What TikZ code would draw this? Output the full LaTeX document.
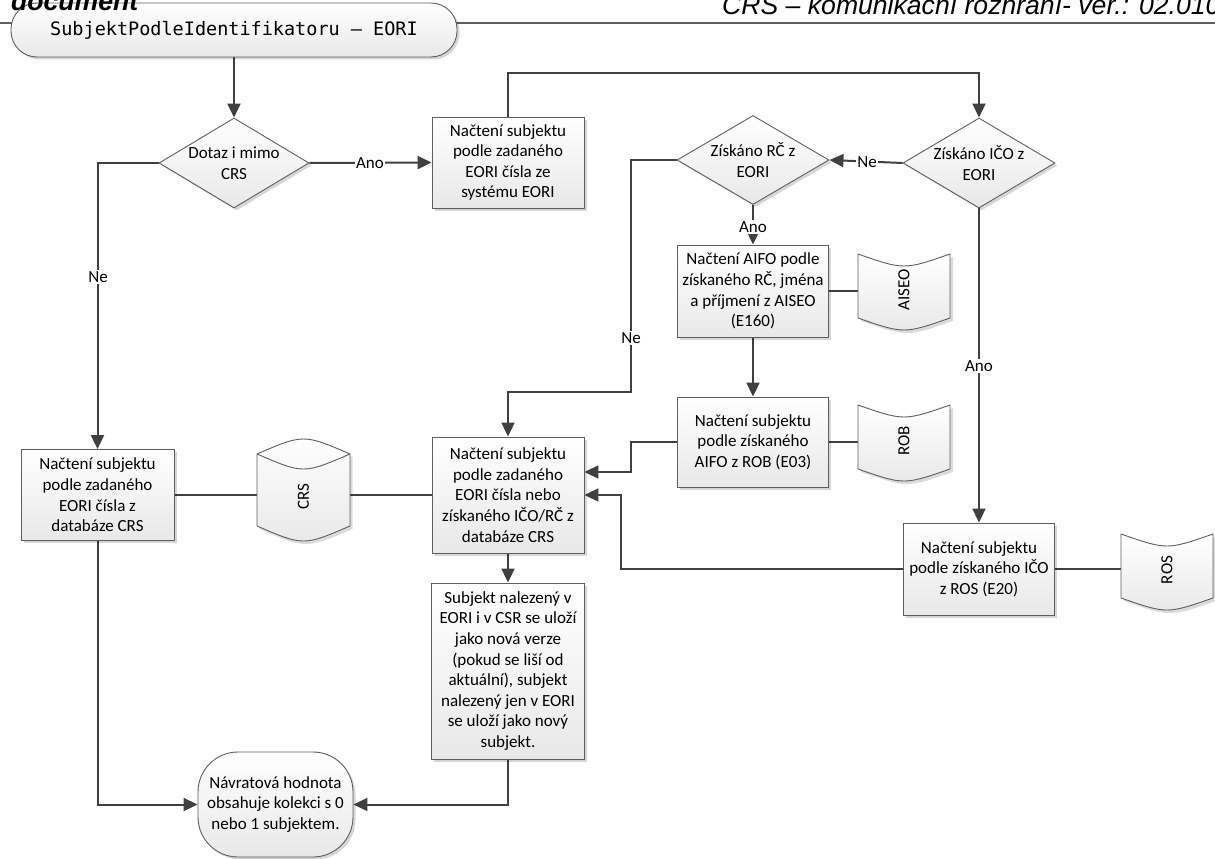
\documentclass[tikz,border=0pt]{standalone}
\usepackage{fontspec}
\setmainfont{Carlito}
\newfontfamily\hdrfont{Liberation Sans}
\newfontfamily\codefont{DejaVu Sans Mono}
\usetikzlibrary{arrows.meta,shapes.geometric,shadows,calc}
\pgfdeclarelayer{bg}
\pgfsetlayers{bg,main}
\definecolor{linec}{HTML}{404040}
\definecolor{borderc}{HTML}{5F5F5F}
\newcommand\bxfont{\fontsize{17}{20.6}\selectfont}
\newcommand\docshape[3]{%
  \begin{scope}[shift={#2}]
    \fill[black,opacity=.14] (-43,-33) .. controls (3,-17) .. (49,-33) -- (49,31) .. controls (3,47) .. (-43,31) -- cycle;
    \draw[borderline, top color=white, bottom color=black!9] (-46,-36) .. controls (0,-20) .. (46,-36) -- (46,28) .. controls (0,44) .. (-46,28) -- cycle;
  \end{scope}
  \node[doctext] (#1) at #2 {\rotatebox{90}{#3}};}
\begin{document}
\begin{tikzpicture}[x=1pt,y=-1pt,
  borderline/.style={draw=borderc, line width=0.9pt},
  conn/.style={draw=linec, line width=2pt},
  arr/.style={conn, -{Triangle[length=14pt,width=13pt]}},
  lbl/.style={fill=white, inner sep=1pt, font=\bxfont, text=black},
  shad/.style={drop shadow={shadow xshift=2.5pt, shadow yshift=-2.5pt, fill=black, opacity=0.16}},
  proc/.style={rectangle, borderline, top color=white, bottom color=black!9, shad, font=\bxfont, align=center, inner sep=2pt},
  dia/.style={diamond, borderline, top color=white, bottom color=black!9, shad, inner sep=0pt},
  diatext/.style={font=\bxfont, align=center, inner sep=0pt},
  term/.style={rectangle, borderline, top color=white, bottom color=black!9, shad, align=center},
  doctext/.style={font=\bxfont, inner sep=1pt},
]
\useasboundingbox (0,0) rectangle (1215,859);

% start terminal
\node[term, minimum width=446pt, minimum height=54pt, rounded corners=26pt,
      font=\codefont\fontsize{18.5}{22}\selectfont] (start) at (234,30) {SubjektPodleIdentifikatoru – EORI};

% header texts
\node[anchor=base west, inner sep=0pt, font=\hdrfont\itshape\fontsize{26.6}{30}\selectfont] (hdr) at (722,15) {CRS – komunikační rozhraní- ver.: 02.010};
\node[anchor=base west, inner sep=0pt, font=\hdrfont\bfseries\itshape\fontsize{26.6}{30}\selectfont] (docw) at (11,11) {document};

% decisions
\node[dia, minimum width=150pt, minimum height=90pt] (d1) at (234,163) {};
\node[diatext] (d1t) at (d1) {Dotaz i mimo\\CRS};
\node[dia, minimum width=152pt, minimum height=89pt] (d2) at (753,160) {};
\node[diatext] (d2t) at (d2) {Získáno RČ z\\EORI};
\node[dia, minimum width=152pt, minimum height=90pt] (d3) at (979,163) {};
\node[diatext] (d3t) at (d3) {Získáno IČO z\\EORI};

% processes
\node[proc, minimum width=152pt, minimum height=91pt] (b1) at (508,162.5) {Načtení subjektu\\podle zadaného\\EORI čísla ze\\systému EORI};
\node[proc, minimum width=151pt, minimum height=92pt] (aifo) at (753,291) {Načtení AIFO podle\\získaného RČ, jména\\a příjmení z AISEO\\(E160)};
\node[proc, minimum width=151pt, minimum height=90pt] (rob) at (753,442) {Načtení subjektu\\podle získaného\\AIFO z ROB (E03)};
\node[proc, minimum width=153pt, minimum height=91pt] (b2) at (97.5,495) {Načtení subjektu\\podle zadaného\\EORI čísla z\\databáze CRS};
\node[proc, minimum width=152pt, minimum height=116pt] (b3) at (508,495) {Načtení subjektu\\podle zadaného\\EORI čísla nebo\\získaného IČO/RČ z\\databáze CRS};
\node[proc, minimum width=151pt, minimum height=92pt] (ros) at (979,569) {Načtení subjektu\\podle získaného IČO\\z ROS (E20)};
\node[proc, minimum width=153pt, minimum height=176pt] (b4) at (508,671) {Subjekt nalezený v\\EORI i v CSR se uloží\\jako nová verze\\(pokud se liší od\\aktuální), subjekt\\nalezený jen v EORI\\se uloží jako nový\\subjekt.};

% end terminal
\node[term, minimum width=155pt, minimum height=105pt, rounded corners=40pt, font=\bxfont] (end) at (275.5,804.5) {Návratová hodnota\\obsahuje kolekci s 0\\nebo 1 subjektem.};

% data stores
\docshape{aiseo}{(904,290)}{AISEO}
\docshape{robdoc}{(904,441)}{ROB}
\docshape{rosdoc}{(1167,570)}{ROS}

% CRS cylinder
\begin{scope}[shift={(303.5,495)}]
  \fill[black,opacity=.14] (-44,-38) .. controls (2.5,-58) .. (49,-38) -- (49,34) .. controls (2.5,54) .. (-44,34) -- cycle;
  \draw[borderline, top color=white, bottom color=black!9] (-46.5,-41) .. controls (0,-61) .. (46.5,-41) -- (46.5,31) .. controls (0,51) .. (-46.5,31) -- cycle;
  \draw[borderline] (-46.5,-41) .. controls (0,-21) .. (46.5,-41);
\end{scope}
\node[doctext] (crs) at (303.5,497) {\rotatebox{90}{CRS}};

% connectors
\begin{pgfonlayer}{bg}
  \draw[draw=borderc, line width=1.2pt] (0,23) -- (1215,23);
  \draw[arr] (start.south) -- (d1.north);
  \draw[arr] (d1.east) -- (b1.west);
  \node[lbl] (l1) at (370,163) {Ano};
  \draw[arr] (d1.west) -| (b2.north);
  \node[lbl] (l2) at (98,277) {Ne};
  \draw[arr] (b1.north) -- (b1.north |- 0,73) -| (d3.north);
  \draw[arr] (d3.west) -- (d2.east);
  \node[lbl] (l3) at (867,162) {Ne};
  \draw[arr] (d2.south) -- (aifo.north);
  \node[lbl] (l4) at (753,227) {Ano};
  \draw[arr] (d2.west) -| (631,392) -| (b3.north);
  \node[lbl] (l5) at (631,338) {Ne};
  \draw[arr] (d3.south) -- (ros.north);
  \node[lbl] (l6) at (979,366) {Ano};
  \draw[arr] (aifo.south) -- (rob.north);
  \draw[conn] (aifo.east) -- (aifo.east -| aiseo.center);
  \draw[conn] (rob.east) -- (rob.east -| robdoc.center);
  \draw[conn] (ros.east) -- (ros.east -| rosdoc.center);
  \draw[arr] (rob.west) -| (631,472) -- (b3.east |- 0,472);
  \draw[arr] (ros.west) -| (621,495) -- (b3.east);
  \draw[conn] (b2.east) -- (b3.west);
  \draw[arr] (b3.south) -- (b4.north);
  \draw[arr] (b4.south) |- (end.east);
  \draw[arr] (b2.south) |- (end.west);
\end{pgfonlayer}
\end{tikzpicture}
\end{document}
